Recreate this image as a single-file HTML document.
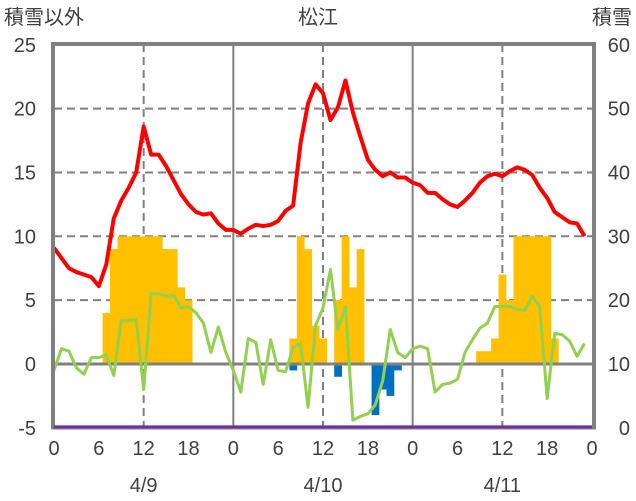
<!DOCTYPE html>
<html><head><meta charset="utf-8"><style>
body{margin:0;background:#fff}
svg{display:block;font-family:"Liberation Sans","Noto Sans CJK JP",sans-serif}
</style></head><body>
<svg id="chart" width="636" height="501" viewBox="0 0 636 501" xmlns="http://www.w3.org/2000/svg">
<text x="4" y="24" font-size="20" fill="#404040">積雪以外</text>
<text x="318" y="24" font-size="20" fill="#404040" text-anchor="middle">松江</text>
<text x="632" y="24" font-size="20" fill="#404040" text-anchor="end">積雪</text>
<g id="grid"></g><g id="bars"></g><g id="lines"></g><g id="frame"></g><g id="labels"></g>
</svg>
<script>
const leftTicks=[25,20,15,10,5,0,-5];
const rightTicks=[60,50,40,30,20,10,0];
const hourTicks=[0,6,12,18];
const dates=["4/9","4/10","4/11"];
const temp=[9.1,8.3,7.5,7.2,7.0,6.8,6.1,7.8,11.4,12.8,13.8,15.0,18.6,16.4,16.4,15.5,14.4,13.3,12.5,11.9,11.7,11.8,11.0,10.5,
10.5,10.2,10.6,10.9,10.8,10.9,11.2,12.0,12.4,17.3,20.4,21.9,21.2,19.1,20.1,22.2,19.7,17.8,16.0,15.2,14.7,15.0,14.6,14.6,
14.2,14.0,13.4,13.4,12.9,12.5,12.3,12.8,13.4,14.2,14.7,14.9,14.7,15.1,15.4,15.2,14.8,13.8,13.0,11.9,11.5,11.1,11.0,10.0];
const green=[-0.5,1.2,1.0,-0.3,-0.8,0.5,0.5,0.7,-0.9,3.4,3.4,3.5,-2.0,5.5,5.5,5.3,5.4,4.4,4.5,4.0,3.2,0.9,2.9,0.9,
-0.5,-2.2,2.0,1.7,-1.6,1.9,-0.5,-0.6,1.3,1.6,-3.4,3.0,4.4,7.4,2.7,4.5,-4.4,-4.1,-3.9,-3.2,-1.3,2.7,0.9,0.5,
1.2,1.4,1.2,-2.2,-1.6,-1.5,-1.2,0.9,1.9,2.8,3.2,4.5,4.5,4.5,4.3,4.2,5.3,4.5,-2.7,2.4,2.3,1.8,0.6,1.6];
const orangeHours=[7,8,9,10,11,12,13,14,15,16,17,18,32,33,34,35,36,38,39,40,41,57,58,59,60,61,62,63,64,65,66,67];
const orangeVals=[4,9,10,10,10,10,10,10,9,9,6,5,2,10,9,3,2,5,10,6,9,1,1,2,7,5,10,10,10,10,10,2];
const blueHours=[32,38,43,44,45,46];
const blueVals=[-0.5,-1.0,-4.0,-2.0,-2.5,-0.5];
const snowDepth=new Array(72).fill(0);

const NS="http://www.w3.org/2000/svg";
const X0=54,X1=592,Y0=364,PX=12.77;
const xs=h=>X0+h*(X1-X0)/72;
const yL=v=>Y0-v*PX;
const yR=v=>yL(v/2-5);
function mk(p,tag,at){const e=document.createElementNS(NS,tag);for(const k in at)e.setAttribute(k,at[k]);p.appendChild(e);return e;}
const G=document.getElementById('grid'),B=document.getElementById('bars'),L=document.getElementById('lines'),F=document.getElementById('frame'),T=document.getElementById('labels');
leftTicks.forEach(v=>{if(v===0||v===25||v===-5)return;
 const l=mk(G,'line',{x1:X0,x2:X1,y1:yL(v),y2:yL(v),stroke:'#808080','stroke-width':2,'stroke-dasharray':'8,5'});
 
 });
for(let d=0;d<3;d++){const l=mk(G,'line',{x1:xs(d*24+12),x2:xs(d*24+12),y1:44,y2:427,stroke:'#808080','stroke-width':2,'stroke-dasharray':'8,5'});
 
 }
[24,48].forEach(h=>{const l=mk(G,'line',{x1:xs(h),x2:xs(h),y1:44,y2:427,stroke:'#808080','stroke-width':2});
 
 });
const bw=(X1-X0)/72;
orangeHours.forEach((h,i)=>{const v=orangeVals[i];const r=mk(B,'rect',{x:xs(h)-bw/2,y:yL(v),width:bw+0.3,height:yL(0)-yL(v),fill:'#FFC000'});
 
 });
blueHours.forEach((h,i)=>{const v=blueVals[i];const r=mk(B,'rect',{x:xs(h)-bw/2,y:yL(0),width:bw+0.3,height:yL(v)-yL(0),fill:'#0070C0'});
 
 });
const zl=mk(B,'line',{x1:X0,x2:X1,y1:Y0,y2:Y0,stroke:'#808080','stroke-width':3});


function poly(arr,col,w,name,f){const p=mk(L,'polyline',{points:arr.map((v,i)=>xs(i)+','+f(v)).join(' '),fill:'none',stroke:col,'stroke-width':w,'stroke-linejoin':'round'});
 
 }
poly(green,'#92D050',3,'green-line',yL);
poly(temp,'#FF0000',4,'temperature-line',yL);
const fr=mk(F,'path',{d:`M${X0-1},428 V44 H${X1+2} V428`,fill:'none',stroke:'#808080','stroke-width':4});


const bl=mk(F,'line',{x1:X0-3,x2:X1+4,y1:428,y2:428,stroke:'#808080','stroke-width':3});


const sp=snowDepth.map((v,i)=>xs(i)+','+(yR(v)-1)).join(' ')+' '+X1+','+(yR(0)-1);
const pl=mk(F,'polyline',{points:sp,fill:'none',stroke:'#7030A0','stroke-width':3});


leftTicks.forEach(v=>{const t=mk(T,'text',{x:36,y:yL(v)+7,'font-size':20,fill:'#404040','text-anchor':'end'});t.textContent=v;
 
 });
rightTicks.forEach(v=>{const t=mk(T,'text',{x:630,y:yR(v)+7,'font-size':20,fill:'#404040','text-anchor':'end'});t.textContent=v;
 
 });
for(let d=0;d<3;d++){hourTicks.forEach(h=>{const t=mk(T,'text',{x:xs(d*24+h),y:455,'font-size':20,fill:'#404040','text-anchor':'middle'});t.textContent=h;
 
 });
 const t=mk(T,'text',{x:xs(d*24+12),y:492,'font-size':20,fill:'#404040','text-anchor':'middle'});t.textContent=dates[d];
 
 }
const te=mk(T,'text',{x:X1,y:455,'font-size':20,fill:'#404040','text-anchor':'middle'});te.textContent=0;


</script>
</body></html>
